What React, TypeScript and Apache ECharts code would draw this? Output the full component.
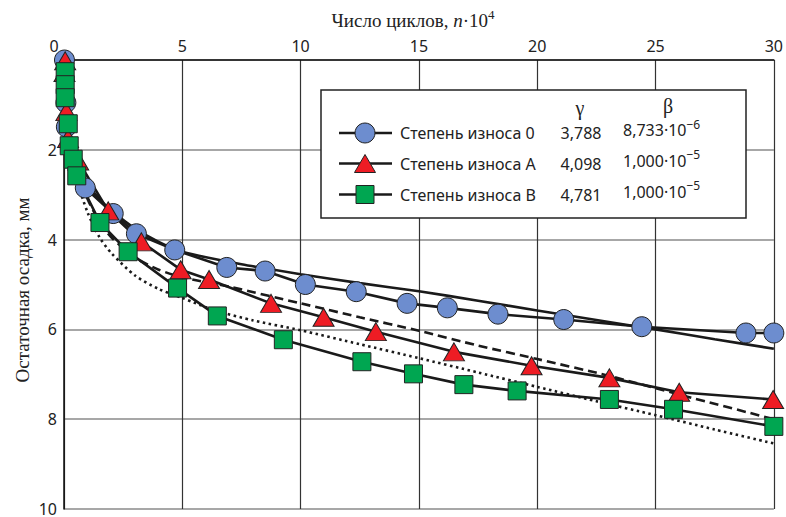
import React, { useEffect, useRef } from "react";
import * as echarts from "echarts";

// ---- data (x: число циклов ·10^4, y: остаточная осадка, мм) ----
const wear0X = [0.02, 0.08, 0.1, 0.9, 2.08, 3.06, 4.68, 6.88, 8.5, 10.2, 12.35, 14.5, 16.2, 18.34, 21.12, 24.42, 28.82, 30.0];
const wear0Y = [0.0, 0.95, 1.49, 2.85, 3.42, 3.87, 4.23, 4.62, 4.7, 5.0, 5.16, 5.42, 5.52, 5.66, 5.78, 5.94, 6.08, 6.08];

const wearAX = [0.05, 0.02, 0.1, 0.17, 0.6, 1.87, 3.27, 4.93, 6.13, 8.75, 10.97, 13.18, 16.48, 19.76, 23.05, 26.0, 29.97];
const wearAY = [0.02, 0.28, 1.15, 1.75, 2.25, 3.36, 4.05, 4.67, 4.89, 5.42, 5.73, 6.05, 6.5, 6.81, 7.08, 7.4, 7.56];

const wearBX = [0.05, 0.05, 0.05, 0.18, 0.22, 0.39, 0.54, 1.52, 2.71, 4.8, 6.48, 9.27, 12.59, 14.77, 16.9, 19.15, 23.05, 25.76, 30.0];
const wearBY = [0.26, 0.55, 0.84, 1.42, 1.91, 2.21, 2.58, 3.62, 4.27, 5.08, 5.7, 6.23, 6.72, 6.99, 7.23, 7.37, 7.56, 7.78, 8.16];

// fitted curves
const fit0X = [0, 0.25, 0.5, 1, 1.5, 2, 3, 4, 5, 7.5, 10, 12.5, 15, 17.5, 20, 22.5, 25, 27.5, 30];
const fit0Y = [0, 1.6, 2.2, 2.75, 3.1, 3.35, 3.75, 4.05, 4.27, 4.55, 4.77, 4.97, 5.15, 5.36, 5.58, 5.79, 6.0, 6.22, 6.43];

const fitAX = [0, 0.25, 0.5, 1, 1.5, 2, 3, 4, 5, 7, 10, 12.5, 15, 17.5, 20, 23, 26, 30];
const fitAY = [0, 1.7, 2.35, 3.1, 3.6, 3.95, 4.4, 4.67, 4.84, 5.05, 5.42, 5.73, 6.03, 6.36, 6.66, 7.03, 7.45, 8.0];

const fitBX = [0, 0.25, 0.5, 1, 1.5, 2, 3, 4, 5, 6.4, 8, 10, 12.5, 15, 17.5, 20, 22.5, 25, 27.5, 30];
const fitBY = [0, 1.9, 2.6, 3.4, 3.95, 4.3, 4.8, 5.1, 5.3, 5.58, 5.8, 6.02, 6.33, 6.64, 6.96, 7.28, 7.6, 7.91, 8.23, 8.54];

const xTicks = [0, 5, 10, 15, 20, 25, 30];
const yTicks = [0, 2, 4, 6, 8, 10];

const legendNames = ["Степень износа 0", "Степень износа A", "Степень износа B"];
const gammaValues = ["3,788", "4,098", "4,781"];
const betaMantissa = ["8,733", "1,000", "1,000"];
const betaExponent = ["−6", "−5", "−5"];

const SANS = '"Noto Sans", "Open Sans", sans-serif';
const SERIF = '"Liberation Serif", "DejaVu Serif", serif';
const BLUE = "#6d8dcf";
const RED = "#ee1c24";
const GREEN = "#00a651";
const DARK = "#1a1a1a";

const zip = (xs: number[], ys: number[]) => xs.map((x, i) => [x, ys[i]]);

export default function App() {
  const ref = useRef<HTMLDivElement>(null);

  useEffect(() => {
    document.body.style.margin = "0";
    document.body.style.overflow = "hidden";
    if (!ref.current) return;
    const chart = echarts.init(ref.current, undefined, { renderer: "svg" });

    const fitLine = (name: string, xs: number[], ys: number[], type: any) => ({
      name,
      type: "line",
      data: zip(xs, ys),
      showSymbol: false,
      symbol: "none",
      smooth: 0.25,
      clip: true,
      lineStyle: { color: DARK, width: 2.6, type },
      z: 2,
    });

    const dataLine = (name: string, xs: number[], ys: number[], symbol: string, size: any, color: string) => ({
      name,
      type: "line",
      data: zip(xs, ys),
      symbol,
      symbolSize: size,
      showAllSymbol: true,
      clip: false,
      lineStyle: { color: DARK, width: 2.6 },
      itemStyle: { color, borderColor: "#222", borderWidth: 1 },
      z: 3,
    });

    const rowY = [133, 163.5, 194.5];
    const legendGraphics: any[] = [
      {
        type: "rect",
        shape: { x: 321, y: 90, width: 425, height: 128 },
        style: { fill: "#fff", stroke: "#222", lineWidth: 1.5 },
        z: 100,
      },
      {
        type: "text",
        x: 580,
        y: 108,
        style: { text: "γ", font: `20px ${SERIF}`, fill: "#222", align: "center", verticalAlign: "middle" },
        z: 101,
      },
      {
        type: "text",
        x: 668,
        y: 106,
        style: { text: "β", font: `20px ${SERIF}`, fill: "#222", align: "center", verticalAlign: "middle" },
        z: 101,
      },
    ];
    rowY.forEach((y, i) => {
      legendGraphics.push({
        type: "line",
        shape: { x1: 339, y1: y, x2: 392, y2: y },
        style: { stroke: DARK, lineWidth: 2.6 },
        z: 101,
      });
      if (i === 0) {
        legendGraphics.push({
          type: "circle",
          shape: { cx: 365, cy: y, r: 10 },
          style: { fill: BLUE, stroke: "#222", lineWidth: 1 },
          z: 102,
        });
      } else if (i === 1) {
        legendGraphics.push({
          type: "polygon",
          shape: { points: [[354.5, y + 9], [375.5, y + 9], [365, y - 9]] },
          style: { fill: RED, stroke: "#222", lineWidth: 1 },
          z: 102,
        });
      } else {
        legendGraphics.push({
          type: "rect",
          shape: { x: 356, y: y - 9, width: 18, height: 18 },
          style: { fill: GREEN, stroke: "#222", lineWidth: 1 },
          z: 102,
        });
      }
      legendGraphics.push({
        type: "text",
        x: 400,
        y,
        style: { text: legendNames[i], font: `16px ${SANS}`, fill: "#222", align: "left", verticalAlign: "middle" },
        z: 102,
      });
      legendGraphics.push({
        type: "text",
        x: 581,
        y,
        style: { text: gammaValues[i], font: `16px ${SANS}`, fill: "#222", align: "center", verticalAlign: "middle" },
        z: 102,
      });
      legendGraphics.push({
        type: "text",
        x: 623,
        y: y - 3,
        style: {
          text: `${betaMantissa[i]}·10{s|${betaExponent[i]}}`,
          font: `16px ${SANS}`,
          fill: "#222",
          align: "left",
          verticalAlign: "middle",
          rich: { s: { fontSize: 12, fontFamily: SANS, fill: "#222", padding: [0, 0, 12, 0] } },
        },
        z: 102,
      });
    });

    const option: any = {
      animation: false,
      backgroundColor: "#fff",
      grid: { left: 64, right: 11, top: 60, height: 456.5 },
      xAxis: {
        type: "value",
        position: "top",
        min: xTicks[0],
        max: xTicks[xTicks.length - 1],
        interval: 5,
        axisLine: { show: true, onZero: false, lineStyle: { color: "#111", width: 1.5 } },
        axisTick: { show: false },
        axisLabel: {
          margin: 6,
          fontFamily: SANS,
          fontSize: 16,
          color: "#222",
          formatter: (v: number) => (v === 0 ? "{z|0}" : String(v)),
          rich: { z: { fontFamily: SANS, fontSize: 16, color: "#222", padding: [0, 20, 0, 0] } },
        },
        splitLine: { show: true, lineStyle: { color: "#333", width: 1.2 } },
      },
      yAxis: {
        type: "value",
        inverse: true,
        min: yTicks[0],
        max: yTicks[yTicks.length - 1],
        interval: 2,
        axisLine: { show: true, onZero: false, lineStyle: { color: "#111", width: 1.5 } },
        axisTick: { show: false },
        axisLabel: { showMinLabel: false, margin: 7, fontFamily: SANS, fontSize: 16, color: "#222" },
        splitLine: { show: true, lineStyle: { color: "#8a8a8a", width: 1.5 } },
      },
      graphic: [
        {
          type: "text",
          x: 413,
          y: 20,
          style: {
            text: "Число циклов, {i|n}·10{s|4}",
            font: `19px ${SERIF}`,
            fill: "#222",
            align: "center",
            verticalAlign: "middle",
            rich: {
              i: { fontFamily: SERIF, fontSize: 19, fontStyle: "italic", fill: "#222" },
              s: { fontFamily: SERIF, fontSize: 13, fill: "#222", padding: [0, 0, 12, 0] },
            },
          },
        },
        {
          type: "text",
          x: 22,
          y: 290,
          rotation: Math.PI / 2,
          style: {
            text: "Остаточная осадка, мм",
            font: `19px ${SERIF}`,
            fill: "#222",
            align: "center",
            verticalAlign: "middle",
          },
        },
        ...legendGraphics,
      ],
      series: [
        fitLine("Аппроксимация 0", fit0X, fit0Y, "solid"),
        fitLine("Аппроксимация A", fitAX, fitAY, [9, 5]),
        fitLine("Аппроксимация B", fitBX, fitBY, [2.5, 3.5]),
        dataLine(legendNames[0], wear0X, wear0Y, "circle", 20, BLUE),
        dataLine(legendNames[1], wearAX, wearAY, "triangle", [21, 18], RED),
        dataLine(legendNames[2], wearBX, wearBY, "rect", 18, GREEN),
      ],
    };

    chart.setOption(option);
    return () => chart.dispose();
  }, []);

  return <div ref={ref} style={{ width: 786, height: 517 }} />;
}
